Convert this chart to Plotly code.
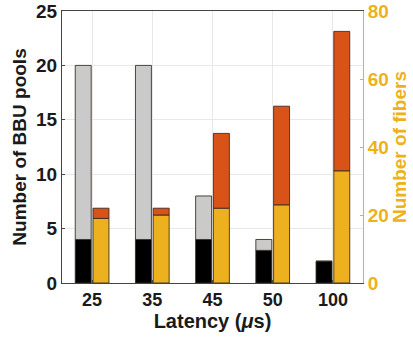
import plotly.graph_objects as go

categories = ["25", "35", "45", "50", "100"]
pools_black = [4, 4, 4, 3, 2]
pools_gray = [16, 16, 4, 1, 0]
fibers_gold = [19, 20, 22, 23, 33]
fibers_orange = [3, 2, 22, 29, 41]

FONT = "Liberation Sans, Arial, sans-serif"
GOLD = "#EDB120"
ORANGE = "#D95319"
GRAY = "#CACACA"
EDGE = "rgba(50,40,30,0.85)"

W = 0.265
fig = go.Figure()
fig.add_bar(x=categories, y=pools_black, offset=-0.28, width=W, marker=dict(color="#000000", line=dict(color=EDGE, width=1)), yaxis="y")
fig.add_bar(x=categories, y=pools_gray, base=pools_black, offset=-0.28, width=W, marker=dict(color=GRAY, line=dict(color=EDGE, width=1)), yaxis="y")
fig.add_bar(x=categories, y=fibers_gold, offset=0.015, width=W, marker=dict(color=GOLD, line=dict(color=EDGE, width=1)), yaxis="y2")
fig.add_bar(x=categories, y=fibers_orange, base=fibers_gold, offset=0.015, width=W, marker=dict(color=ORANGE, line=dict(color=EDGE, width=1)), yaxis="y2")

fig.update_layout(
    width=413, height=345,
    margin=dict(l=62, r=50, t=11, b=62),
    barmode="overlay",
    showlegend=False,
    plot_bgcolor="white", paper_bgcolor="white",
    font=dict(family=FONT, size=18, color="#1a1a1a"),
    xaxis=dict(
        type="category", range=[-0.5, 4.5], automargin=False,
        showgrid=True, gridcolor="#E8E8E8", gridwidth=1,
        showline=True, linecolor="#444444", linewidth=1, mirror=True,
        ticks="inside", ticklen=3, tickcolor="#444444",
        tickfont=dict(family=FONT, size=18, color="#1a1a1a", weight="bold"),
        title=dict(text="Latency (<i>μ</i>s)", font=dict(family=FONT, size=20, color="#1a1a1a", weight="bold"), standoff=4),
    ),
    yaxis=dict(
        range=[0, 25], tickvals=[0, 5, 10, 15, 20, 25], automargin=False,
        showgrid=True, gridcolor="#E8E8E8", gridwidth=1,
        showline=True, linecolor="#444444", linewidth=1,
        ticks="inside", ticklen=3, tickcolor="#444444",
        zeroline=False,
        tickfont=dict(family=FONT, size=19, color="#1a1a1a", weight="bold"),
        title=dict(text="Number of BBU pools", font=dict(family=FONT, size=19, color="#1a1a1a", weight="bold"), standoff=4),
    ),
    yaxis2=dict(
        overlaying="y", side="right", automargin=False,
        range=[0, 80], tickvals=[0, 20, 40, 60, 80],
        showgrid=False,
        showline=True, linecolor=GOLD, linewidth=1,
        ticks="inside", ticklen=3, tickcolor=GOLD,
        zeroline=False,
        tickfont=dict(family=FONT, size=19, color=GOLD, weight="bold"),
        title=dict(text="Number of fibers", font=dict(family=FONT, size=19, color=GOLD, weight="bold"), standoff=4),
    ),
)

fig.write_html("out.html", config={"displayModeBar": False}, post_script="document.body.style.margin='0';")
